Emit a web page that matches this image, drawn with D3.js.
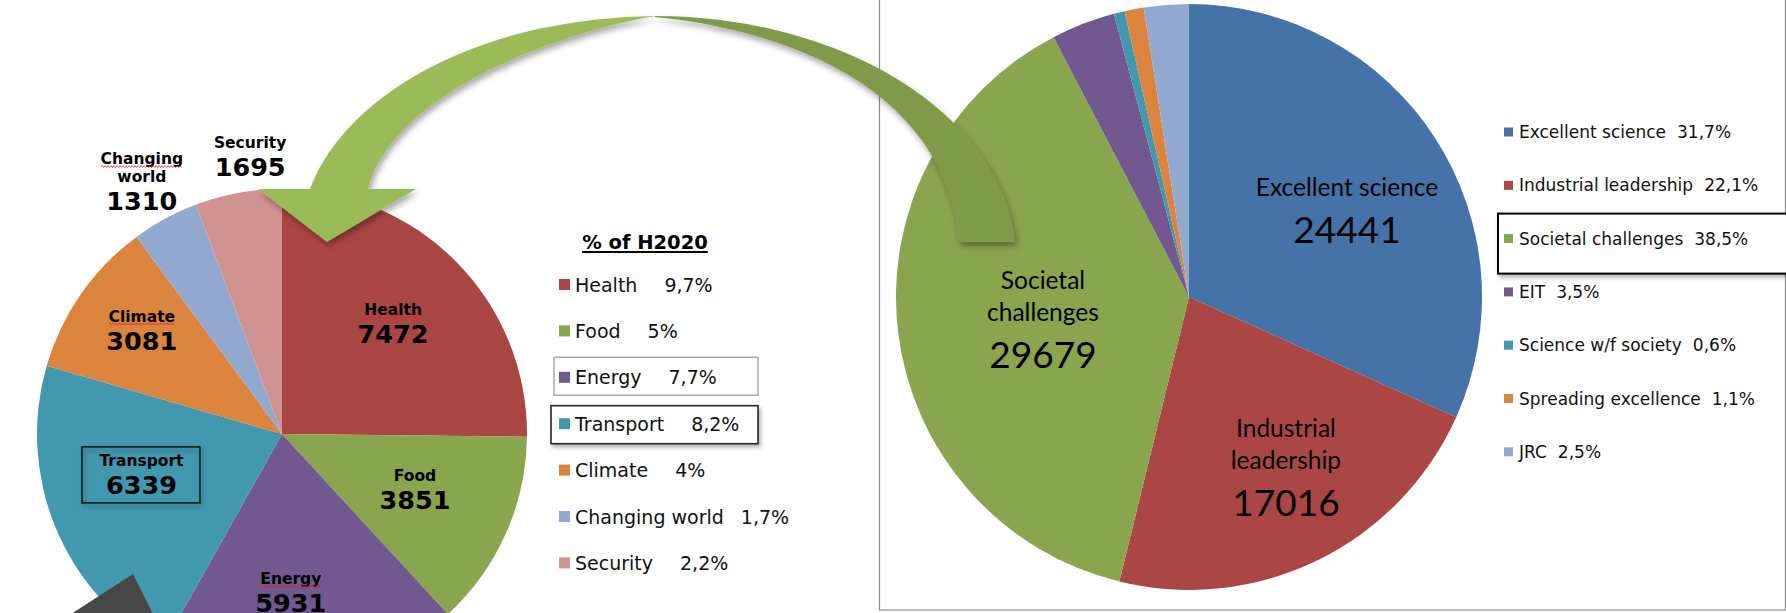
<!DOCTYPE html>
<html><head><meta charset="utf-8">
<script src="https://cdn.jsdelivr.net/npm/d3@7"></script>
<style>
html,body{margin:0;padding:0;background:#fff;overflow:hidden}
svg{display:block}
</style></head><body>
<svg id="chart" width="1786" height="613"></svg>
<script>
// ---------- DATA ----------
const challengeNames  = ["Health","Food","Energy","Transport","Climate","Changing world","Security"];
const challengeValues = [7472, 3851, 5931, 6339, 3081, 1310, 1695];
const challengeShares = ["9,7%","5%","7,7%","8,2%","4%","1,7%","2,2%"];
const challengeColors = ["#AA4643","#89A54E","#71588F","#4198AF","#DB843D","#93A9CF","#D19392"];
const legendTitle = "% of H2020";

const pillarNames  = ["Excellent science","Industrial leadership","Societal challenges","EIT","Science w/f society","Spreading excellence","JRC"];
const pillarValues = [24441, 17016, 29679, 2711, 462, 816, 1903];
const pillarShares = ["31,7%","22,1%","38,5%","3,5%","0,6%","1,1%","2,5%"];
const pillarColors = ["#4572A7","#AA4643","#89A54E","#71588F","#4198AF","#DB843D","#93A9CF"];
const pillarLabelled = ["Excellent science","Industrial leadership","Societal challenges"];

// ---------- LAYOUT ----------
const svg = d3.select("#chart");
const defs = svg.append("defs");
function shadow(id, dx, dy, sd, op){
  defs.append("filter").attr("id",id).attr("x","-20%").attr("y","-20%").attr("width","140%").attr("height","140%")
    .append("feDropShadow").attr("dx",dx).attr("dy",dy).attr("stdDeviation",sd)
    .attr("flood-color","#000").attr("flood-opacity",op);
}
shadow("arrowShadow",2,4,3,0.35);
shadow("boxShadow",2,3,2,0.3);

const sansV = "'DejaVu Sans', Verdana, sans-serif";
const sansC = "Lato, 'Open Sans', sans-serif";

function polar(cx, cy, deg, rad){
  const a = deg*Math.PI/180;
  return [cx + rad*Math.sin(a), cy - rad*Math.cos(a)];
}
function wavy(g, x0, y0, w){
  let d = "M"+x0+","+y0; let up = true;
  for (let x = x0+1.5; x <= x0+w; x += 1.5){ d += "L"+x.toFixed(1)+","+(y0+(up?-0.9:0.9)); up=!up; }
  g.append("path").attr("d",d).attr("fill","none").attr("stroke","#e02525").attr("stroke-width",0.8);
}

// right chart frame
svg.append("rect").attr("x",879.5).attr("y",-2).attr("width",906).attr("height",612)
  .attr("fill","none").attr("stroke","#8c8c8c").attr("stroke-width",1.2);

const pie = d3.pie().sort(null).value(d => d);

// ---------- LEFT PIE ----------
const L = {cx:282, cy:434, r:245};
const leftArcs = pie(challengeValues);
const leftArc = d3.arc().innerRadius(0).outerRadius(L.r);
svg.append("g").attr("transform",`translate(${L.cx},${L.cy})`)
  .selectAll("path").data(leftArcs).join("path")
  .attr("d", leftArc).attr("fill",(d,i)=>challengeColors[i]);

const leftLabelLayout = [{k:.624,da:1.3},{k:.597,da:.6},{k:.670,da:3.6},{k:.604,da:4.0},{k:.699,da:.2},{k:1.127,da:-2},{k:1.118,da:3.6}];
const spellFlag = ["Health","Climate","Energy","Changing"];
leftArcs.forEach((d,i)=>{
  const lay = leftLabelLayout[i];
  const mid = (d.startAngle+d.endAngle)/2*180/Math.PI + lay.da;
  const [x,y] = polar(L.cx, L.cy, mid, lay.k*L.r);
  const g = svg.append("g");
  const lines = challengeNames[i].split(" ");
  lines.forEach((ln,j)=>{
    const yy = y - 14 - (lines.length-1-j)*18;
    const t = g.append("text").attr("x",x).attr("y",yy).attr("text-anchor","middle")
      .attr("font-family",sansV).attr("font-weight","bold").attr("font-size",15.5).attr("fill","#000").text(ln);
    if (spellFlag.includes(ln)){ const w = t.node().getComputedTextLength(); wavy(g, x-w/2, yy+2.5, w); }
  });
  g.append("text").attr("x",x).attr("y",y+14).attr("text-anchor","middle")
    .attr("font-family",sansV).attr("font-weight","bold").attr("font-size",25.5).attr("fill","#000")
    .text(challengeValues[i]);
  if (challengeNames[i]==="Transport"){
    g.insert("rect","text").attr("x",x-59.5).attr("y",y-33.5).attr("width",118).attr("height",56)
      .attr("fill","none").attr("stroke","#1a1a1a").attr("stroke-width",1.6).attr("filter","url(#boxShadow)");
  }
});

// left legend
const LL = {x:559, y0:284.5, dy:46.4, sq:11};
svg.append("text").attr("x",645).attr("y",249).attr("text-anchor","middle")
  .attr("font-family",sansV).attr("font-weight","bold").attr("font-size",19.5).attr("fill","#000")
  .text(legendTitle).each(function(){
    const w = this.getComputedTextLength();
    svg.append("line").attr("x1",645-w/2).attr("x2",645+w/2).attr("y1",252).attr("y2",252)
      .attr("stroke","#000").attr("stroke-width",1.8);
  });
challengeNames.forEach((n,i)=>{
  const cy = LL.y0 + i*LL.dy;
  if (n==="Energy"){
    svg.append("rect").attr("x",554).attr("y",cy-20).attr("width",204).attr("height",38)
      .attr("fill","#fff").attr("stroke","#a8a8a8").attr("stroke-width",1.5);
  }
  if (n==="Transport"){
    svg.append("rect").attr("x",551).attr("y",cy-18).attr("width",207).attr("height",38)
      .attr("fill","#fff").attr("stroke","#262626").attr("stroke-width",1.6).attr("filter","url(#boxShadow)");
  }
  svg.append("rect").attr("x",LL.x).attr("y",cy-LL.sq/2).attr("width",LL.sq).attr("height",LL.sq).attr("fill",challengeColors[i]);
  const t = svg.append("text").attr("x",LL.x+16).attr("y",cy+7)
    .attr("font-family",sansV).attr("font-size",19).attr("fill","#111");
  t.append("tspan").text(n);
  t.append("tspan").attr("dx",n==="Changing world"?17:27).text(challengeShares[i]);
});

// ---------- RIGHT PIE ----------
const R = {cx:1189, cy:297, r:293};
const rightArcs = pie(pillarValues);
const rightArc = d3.arc().innerRadius(0).outerRadius(R.r);
svg.append("g").attr("transform",`translate(${R.cx},${R.cy})`)
  .selectAll("path").data(rightArcs).join("path")
  .attr("d", rightArc).attr("fill",(d,i)=>pillarColors[i]);

const rightLabelLayout = {"Excellent science":{k:.64,da:.3,wrap:false},
                          "Industrial leadership":{k:.674,da:-3.4,wrap:true},
                          "Societal challenges":{k:.505,da:-2.4,wrap:true}};
rightArcs.forEach((d,i)=>{
  const n = pillarNames[i];
  if (!pillarLabelled.includes(n)) return;
  const lay = rightLabelLayout[n];
  const mid = (d.startAngle+d.endAngle)/2*180/Math.PI + lay.da;
  const [x,y] = polar(R.cx, R.cy, mid, lay.k*R.r);
  const lines = lay.wrap ? n.split(" ") : [n];
  lines.forEach((ln,j)=>{
    svg.append("text").attr("x",x).attr("y",y-(lines.length-1-j)*32).attr("text-anchor","middle")
      .attr("font-family",sansC).attr("font-size",24.5).attr("fill","#000").text(ln);
  });
  svg.append("text").attr("x",x).attr("y",y+47).attr("text-anchor","middle")
    .attr("font-family",sansC).attr("font-size",37).attr("fill","#000").text(pillarValues[i]);
});

// right legend
const RL = {x:1504, y0:132, dy:53.3, sq:9};
pillarNames.forEach((n,i)=>{
  const cy = RL.y0 + i*RL.dy;
  if (n==="Societal challenges"){
    svg.append("rect").attr("x",1498).attr("y",cy-25).attr("width",300).attr("height",60)
      .attr("fill","#fff").attr("stroke","#000").attr("stroke-width",2).attr("filter","url(#boxShadow)");
  }
  svg.append("rect").attr("x",RL.x).attr("y",cy-RL.sq/2).attr("width",RL.sq).attr("height",RL.sq).attr("fill",pillarColors[i]);
  const t = svg.append("text").attr("x",RL.x+15).attr("y",cy+6)
    .attr("font-family",sansV).attr("font-size",17).attr("fill","#111");
  t.append("tspan").text(n);
  t.append("tspan").attr("dx",11).text(pillarShares[i]);
});

// ---------- DECORATIVE ARROWS ----------
const arrow = svg.append("g").attr("filter","url(#arrowShadow)");
arrow.append("path").attr("fill","#7F9A48")
  .attr("d","M655,16 A361,244 0 0 1 1015,242 L959,242 C945,80 770,28 655,17 Z");
arrow.append("path").attr("fill","#9BBB59")
  .attr("d","M310,189 A358,224 0 0 1 656,16 C580,28 395,85 368,189 L416,189 L327,242 L258,189 Z");

svg.append("path").attr("fill","#474747").attr("d","M68,616 L133,574 L154,616 Z");
</script>
</body></html>
